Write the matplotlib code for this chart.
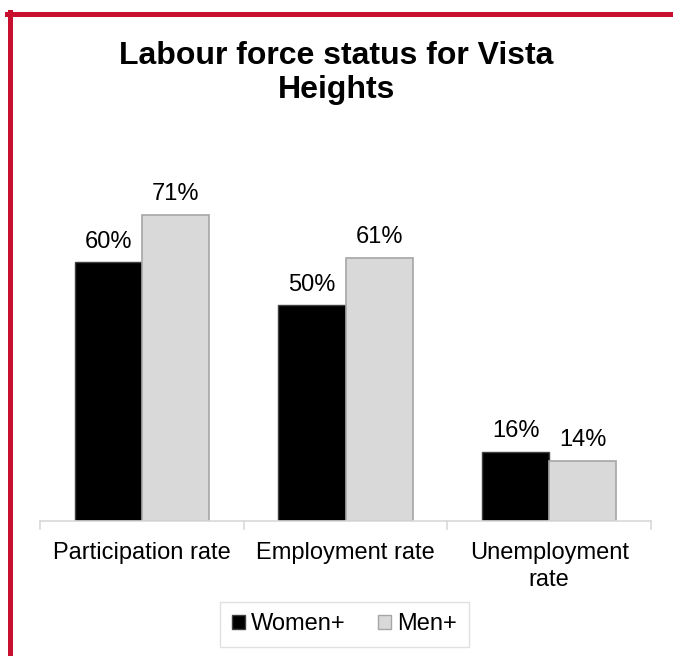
import matplotlib
matplotlib.use("Agg")
import matplotlib.pyplot as plt
from matplotlib.lines import Line2D
from matplotlib.patches import Patch
import numpy as np

categories = ["Participation rate", "Employment rate", "Unemployment\nrate"]
women = [60, 50, 16]
men = [71, 61, 14]
series_names = ["Women+", "Men+"]

W, H = 673, 656
fig = plt.figure(figsize=(W / 100, H / 100), dpi=100)
plt.rcParams['font.family'] = ['Liberation Sans', 'DejaVu Sans']

# axes in pixel coords
left, right, bottom, top = 40, 651, 521, 176
ax = fig.add_axes([left / W, 1 - bottom / H, (right - left) / W, (bottom - top) / H])

x = np.arange(len(categories))
bw = 0.33
b1 = ax.bar(x - bw / 2, women, bw, color="black", edgecolor="#404040", linewidth=1, label=series_names[0])
b2 = ax.bar(x + bw / 2, men, bw, color="#d9d9d9", edgecolor="#a6a6a6", linewidth=1.2, label=series_names[1])
for bars, vals in ((b1, women), (b2, men)):
    for r, v in zip(bars, vals):
        ax.annotate(f"{v}%", (r.get_x() + r.get_width() / 2, v), xytext=(0, 7),
                    textcoords="offset points", ha="center", va="bottom", fontsize=17)

ax.set_xlim(-0.5, len(categories) - 0.5)
ax.set_ylim(0, 80)
for s in ("top", "right", "left"):
    ax.spines[s].set_visible(False)
ax.spines["bottom"].set_color("#d9d9d9")
ax.spines["bottom"].set_linewidth(1.2)
ax.set_yticks([])
ax.set_xticks(x)
ax.set_xticklabels(categories, fontsize=17, linespacing=1.3)
ax.tick_params(axis="x", length=0, pad=15)
for b in np.arange(-0.5, len(categories), 1.0):
    ax.plot([b, b], [0, -1.8], color="#d9d9d9", lw=1.2, clip_on=False)

fig.text(0.5, 1 - 73 / H, "Labour force status for Vista\nHeights", ha="center", va="center",
         fontsize=23, fontweight="bold", linespacing=1.16)

handles = [Patch(facecolor="black", edgecolor="#404040"), Patch(facecolor="#d9d9d9", edgecolor="#a6a6a6")]
leg = fig.legend(handles, series_names, loc="center", bbox_to_anchor=(344.5 / W, 1 - 624.5 / H),
                 ncol=2, fontsize=17, frameon=True, fancybox=False, handlelength=0.55, handleheight=0.55,
                 handletextpad=0.25, columnspacing=1.4, borderpad=0.5)
leg.get_frame().set_edgecolor("#d9d9d9")
leg.get_frame().set_linewidth(1)

red = "#c8102e"
fig.add_artist(Line2D([7 / W, 1], [1 - 13.5 / H, 1 - 13.5 / H], color=red, lw=3.6, transform=fig.transFigure))
fig.add_artist(Line2D([9.5 / W, 9.5 / W], [0, 1 - 11.5 / H], color=red, lw=3.6, transform=fig.transFigure))

fig.savefig("out.png", dpi=100)
